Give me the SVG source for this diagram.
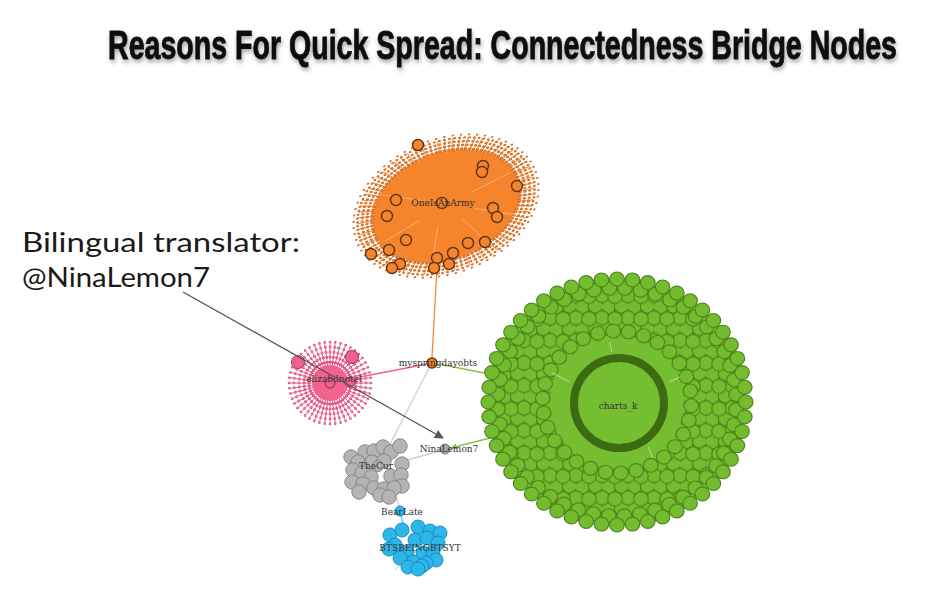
<svg xmlns="http://www.w3.org/2000/svg" width="928" height="614" viewBox="0 0 928 614">
  <defs>
    <style>
      .title { font-family: "Liberation Sans", Arial, sans-serif; font-weight: bold; font-size: 40px; fill: #111; stroke: #111; stroke-width: 0.9; }
      .note { font-family: Lato, "Open Sans", sans-serif; font-size: 26px; fill: #1a1a1a; }
      .lbl { font-family: "DejaVu Serif", "Liberation Serif", serif; font-size: 9px; fill: #333; text-anchor: middle; dominant-baseline: central; }
      .edge { fill: none; stroke-width: 1.3; }
      .dot { fill: none; stroke-linecap: round; stroke-dasharray: 0 1; }
      .og { fill: #f5842c; stroke: #5b3415; stroke-width: 1.4; }
      .gr { fill: #b4b4b4; stroke: #878787; stroke-width: 1; }
      .cy { fill: #2db6ea; stroke: #1b8dbf; stroke-width: 1; }
    </style>
    <filter id="shadow" filterUnits="userSpaceOnUse" x="0" y="0" width="928" height="100">
      <feDropShadow dx="1" dy="3" stdDeviation="2" flood-color="#000" flood-opacity="0.35"/>
    </filter>
    <marker id="arrowDark" viewBox="0 0 10 10" refX="9" refY="5" markerWidth="7" markerHeight="7" orient="auto">
      <path d="M0,0 L10,5 L0,10 z" fill="#555"/>
    </marker>
    <marker id="arrowGreen" viewBox="0 0 10 10" refX="9" refY="5" markerWidth="5" markerHeight="5" orient="auto">
      <path d="M0,0 L10,5 L0,10 z" fill="#8cc04a"/>
    </marker>
    <!-- unit starburst: 24 spokes every 15 degrees -->
    <path id="spokes" vector-effect="non-scaling-stroke" d="M0,0L1,0M0,0L.966,.259M0,0L.866,.5M0,0L.707,.707M0,0L.5,.866M0,0L.259,.966M0,0L0,1M0,0L-.259,.966M0,0L-.5,.866M0,0L-.707,.707M0,0L-.866,.5M0,0L-.966,.259M0,0L-1,0M0,0L-.966,-.259M0,0L-.866,-.5M0,0L-.707,-.707M0,0L-.5,-.866M0,0L-.259,-.966M0,0L0,-1M0,0L.259,-.966M0,0L.5,-.866M0,0L.707,-.707M0,0L.866,-.5M0,0L.966,-.259"/>
    <!-- packed green follower nodes -->
    <pattern id="greenDots" patternUnits="userSpaceOnUse" x="4" y="3" width="26" height="22.5">
      <rect width="26" height="22.5" fill="#5e9c24"/>
      <g fill="#74bb2f" stroke="#4b861c" stroke-width="1.1">
        <circle cx="6.5" cy="11.25" r="7.2"/>
        <circle cx="19.5" cy="10.5" r="7.2"/>
        <circle cx="0" cy="0" r="7.2"/>
        <circle cx="26" cy="0" r="7.2"/>
        <circle cx="13" cy="1" r="7.2"/>
        <circle cx="0" cy="22.5" r="7.2"/>
        <circle cx="26" cy="22.5" r="7.2"/>
        <circle cx="13" cy="23.5" r="7.2"/>
      </g>
    </pattern>
  </defs>

  <rect width="928" height="614" fill="#ffffff"/>

  <g filter="url(#shadow)">
    <text class="title" transform="translate(108,59) scale(0.714,1)" x="0" y="0" textLength="1105" lengthAdjust="spacingAndGlyphs">Reasons For Quick Spread: Connectedness Bridge Nodes</text>
  </g>

  <!-- connectors -->
  <g id="connectors">
    <line class="edge" x1="437" y1="268" x2="432" y2="357" stroke="#f08a3a" stroke-width="1.6"/>
    <line class="edge" x1="355" y1="378" x2="427" y2="364" stroke="#f06090"/>
    <line class="edge" x1="438" y1="364" x2="495" y2="375" stroke="#8cc04a"/>
    <line class="edge" x1="429" y1="368" x2="383" y2="458" stroke="#cfcfcf"/>
    <line class="edge" x1="440" y1="451" x2="396" y2="463" stroke="#cfcfcf"/>
    <line class="edge" x1="490" y1="438" x2="451" y2="448" stroke="#8cc04a" marker-end="url(#arrowGreen)"/>
    <line class="edge" x1="395" y1="494" x2="399" y2="506" stroke="#cfcfcf"/>
    <line class="edge" x1="401" y1="516" x2="405" y2="530" stroke="#5cc8ef"/>
  </g>

  <!-- OneIsAnArmy cluster -->
  <g id="OneIsAnArmy">
    <g transform="translate(446,206) rotate(-22) scale(1,0.696)">
      <use href="#spokes" transform="scale(92)" stroke="#f3913f" stroke-width="1.1"/>
      <use href="#spokes" transform="rotate(5) scale(92)" stroke="#f3913f" stroke-width="1.1"/>
      <use href="#spokes" transform="rotate(10) scale(92)" stroke="#f3913f" stroke-width="1.1"/>
      <circle r="76" fill="#f5842c"/>
      <circle class="dot" r="77" stroke="#c2611e" stroke-width="3.6" pathLength="110"/>
      <circle class="dot" r="77" stroke="#f27f2a" stroke-width="2.4" pathLength="110"/>
      <circle class="dot" r="82" stroke="#c2611e" stroke-width="3.4" pathLength="110"/>
      <circle class="dot" r="82" stroke="#f27f2a" stroke-width="2.2" pathLength="110"/>
      <circle class="dot" r="87" stroke="#c2611e" stroke-width="3.2" pathLength="110"/>
      <circle class="dot" r="87" stroke="#f27f2a" stroke-width="2.1" pathLength="110"/>
      <circle class="dot" r="92" stroke="#c2611e" stroke-width="3" pathLength="110"/>
      <circle class="dot" r="92" stroke="#f27f2a" stroke-width="1.9" pathLength="110"/>
      <circle class="dot" r="96" stroke="#c2611e" stroke-width="2.6" pathLength="70" transform="rotate(2)"/>
      <circle class="dot" r="96" stroke="#f27f2a" stroke-width="1.6" pathLength="70" transform="rotate(2)"/>
      <g stroke="#fbc9a0" stroke-width="0.8" opacity="0.8">
        <line x1="-20" y1="-20" x2="-58" y2="-52"/>
        <line x1="25" y1="18" x2="62" y2="50"/>
        <line x1="10" y1="25" x2="24" y2="68"/>
        <line x1="-15" y1="22" x2="-32" y2="64"/>
        <line x1="30" y1="-5" x2="72" y2="-10"/>
        <line x1="-30" y1="5" x2="-70" y2="14"/>
      </g>
    </g>
    <circle class="og" cx="418" cy="145" r="5.5"/>
    <circle class="og" cx="483" cy="166" r="5.5"/>
    <circle class="og" cx="482" cy="172" r="5.5"/>
    <circle class="og" cx="517" cy="186" r="5.5"/>
    <circle class="og" cx="396" cy="200" r="5.5"/>
    <circle class="og" cx="493" cy="208" r="5.5"/>
    <circle class="og" cx="497" cy="217" r="5.5"/>
    <circle class="og" cx="387" cy="216" r="5.5"/>
    <circle class="og" cx="406" cy="240" r="5.5"/>
    <circle class="og" cx="468" cy="243" r="5.5"/>
    <circle class="og" cx="485" cy="242" r="5.5"/>
    <circle class="og" cx="371" cy="254" r="5.5"/>
    <circle class="og" cx="389" cy="250" r="5.5"/>
    <circle class="og" cx="437" cy="258" r="5.5"/>
    <circle class="og" cx="453" cy="253" r="5.5"/>
    <circle class="og" cx="400" cy="264" r="5.5"/>
    <circle class="og" cx="392" cy="268" r="5.5"/>
    <circle class="og" cx="434" cy="268" r="5.5"/>
    <circle class="og" cx="449" cy="264" r="5.5"/>
    <circle class="og" cx="442" cy="203" r="5.5"/>
    <text class="lbl" x="443" y="203" font-size="9.5">OneIsAnArmy</text>
  </g>

  <!-- elizabdnotel cluster -->
  <g id="elizabdnotel">
    <g transform="translate(330,383)">
      <use href="#spokes" transform="scale(42)" stroke="#f2628f" stroke-width="1"/>
      <use href="#spokes" transform="rotate(7.5) scale(42)" stroke="#f2628f" stroke-width="1"/>
      <circle r="18" fill="#f2628f"/>
      <circle class="dot" r="21" stroke="#d9467a" stroke-width="3" pathLength="48"/>
      <circle class="dot" r="21" stroke="#f2628f" stroke-width="2" pathLength="48"/>
      <circle class="dot" r="26" stroke="#d9467a" stroke-width="3" pathLength="48"/>
      <circle class="dot" r="26" stroke="#f2628f" stroke-width="2" pathLength="48"/>
      <circle class="dot" r="31" stroke="#d9467a" stroke-width="3" pathLength="48"/>
      <circle class="dot" r="31" stroke="#f47aa2" stroke-width="1.9" pathLength="48"/>
      <circle class="dot" r="36" stroke="#d9467a" stroke-width="2.8" pathLength="48"/>
      <circle class="dot" r="36" stroke="#f47aa2" stroke-width="1.8" pathLength="48"/>
      <circle class="dot" r="41" stroke="#d9467a" stroke-width="2.6" pathLength="48"/>
      <circle class="dot" r="41" stroke="#f47aa2" stroke-width="1.6" pathLength="48"/>
    </g>
    <circle cx="298" cy="362" r="6.5" fill="#f0628e" stroke="#9a3a5a" stroke-width="1"/>
    <circle cx="352" cy="357" r="6.5" fill="#f0628e" stroke="#9a3a5a" stroke-width="1"/>
    <circle cx="330" cy="383" r="5" fill="#f0628e" stroke="#7a3048" stroke-width="1"/>
    <circle cx="350" cy="382" r="5" fill="#f0628e" stroke="#7a3048" stroke-width="1"/>
    <circle cx="338" cy="348" r="1.5" fill="#3cc9a0"/>
    <text class="lbl" x="334" y="379" fill="#2a2a2a">elizabdnotel</text>
  </g>

  <!-- charts_k cluster -->
  <g id="charts_k">
    <path fill="url(#greenDots)" fill-rule="evenodd" d="M489,402 a128,122 0 1,0 256,0 a128,122 0 1,0 -256,0 Z M551,402 a66,66 0 1,0 132,0 a66,66 0 1,0 -132,0 Z"/>
    <circle cx="617" cy="402" r="67" fill="#76be31"/>
    <g transform="translate(617,402) scale(1.047,1)">
      <circle class="dot" r="114" stroke="#4b861c" stroke-width="15" pathLength="48" transform="rotate(4)"/>
      <circle class="dot" r="114" stroke="#74bb2f" stroke-width="12.8" pathLength="48" transform="rotate(4)"/>
      <circle class="dot" r="123" stroke="#4b861c" stroke-width="15" pathLength="52"/>
      <circle class="dot" r="123" stroke="#74bb2f" stroke-width="12.8" pathLength="52"/>
      <circle class="dot" r="71" stroke="#4b861c" stroke-width="15" pathLength="30" transform="rotate(3)"/>
      <circle class="dot" r="71" stroke="#74bb2f" stroke-width="12.8" pathLength="30" transform="rotate(3)"/>
      <g stroke="#c9e8a6" stroke-width="1" opacity="0.7">
        <line x1="-45" y1="-20" x2="-62" y2="-29"/>
        <line x1="50" y1="-20" x2="60" y2="-25"/>
        <line x1="30" y1="45" x2="34" y2="56"/>
        <line x1="-5" y1="-50" x2="-7" y2="-60"/>
      </g>
    </g>
    <circle cx="619" cy="403" r="45" fill="none" stroke="#3c6b14" stroke-width="8"/>
    <text class="lbl" x="618" y="406" font-size="8.5">charts_k</text>
  </g>

  <!-- TheCur cluster -->
  <g id="TheCur">
    <g stroke="#e6e6e6" stroke-width="0.8">
      <line x1="378" y1="466" x2="392" y2="498"/>
      <line x1="378" y1="466" x2="360" y2="495"/>
      <line x1="378" y1="466" x2="405" y2="478"/>
    </g>
    <circle class="gr" cx="365" cy="452" r="7.2"/>
    <circle class="gr" cx="374" cy="451" r="7.2"/>
    <circle class="gr" cx="383" cy="447" r="7.2"/>
    <circle class="gr" cx="391" cy="452" r="7.2"/>
    <circle class="gr" cx="400" cy="446" r="7.2"/>
    <circle class="gr" cx="351" cy="457" r="7.2"/>
    <circle class="gr" cx="358" cy="462" r="7.2"/>
    <circle class="gr" cx="372" cy="462" r="7.2"/>
    <circle class="gr" cx="384" cy="461" r="7.2"/>
    <circle class="gr" cx="402" cy="464" r="7.2"/>
    <circle class="gr" cx="353" cy="470" r="7.2"/>
    <circle class="gr" cx="362" cy="473" r="7.2"/>
    <circle class="gr" cx="371" cy="477" r="7.2"/>
    <circle class="gr" cx="391" cy="476" r="7.2"/>
    <circle class="gr" cx="401" cy="475" r="7.2"/>
    <circle class="gr" cx="352" cy="482" r="7.2"/>
    <circle class="gr" cx="363" cy="484" r="7.2"/>
    <circle class="gr" cx="374" cy="488" r="7.2"/>
    <circle class="gr" cx="402" cy="486" r="7.2"/>
    <circle class="gr" cx="359" cy="492" r="7.2"/>
    <circle class="gr" cx="384" cy="489" r="7.2"/>
    <circle class="gr" cx="394" cy="488" r="7.2"/>
    <circle class="gr" cx="380" cy="495" r="7.2"/>
    <circle class="gr" cx="389" cy="497" r="7.2"/>
    <circle class="gr" cx="378" cy="466" r="5.5"/>
    <text class="lbl" x="376" y="466">TheCur</text>
  </g>

  <!-- BTSBEINGBTSYT cluster -->
  <g id="BTSBEINGBTSYT">
    <g stroke="#7dd6f5" stroke-width="0.9">
      <line x1="413" y1="550" x2="395" y2="570"/>
      <line x1="413" y1="550" x2="440" y2="562"/>
      <line x1="413" y1="550" x2="386" y2="540"/>
    </g>
    <circle class="cy" cx="390" cy="535" r="7"/>
    <circle class="cy" cx="402" cy="530" r="7"/>
    <circle class="cy" cx="418" cy="527" r="7"/>
    <circle class="cy" cx="430" cy="531" r="7"/>
    <circle class="cy" cx="440" cy="533" r="7"/>
    <circle class="cy" cx="415" cy="540" r="7"/>
    <circle class="cy" cx="427" cy="538" r="7"/>
    <circle class="cy" cx="395" cy="545" r="7"/>
    <circle class="cy" cx="438" cy="543" r="7"/>
    <circle class="cy" cx="389" cy="549" r="7"/>
    <circle class="cy" cx="407" cy="552" r="7"/>
    <circle class="cy" cx="423" cy="553" r="7"/>
    <circle class="cy" cx="433" cy="552" r="7"/>
    <circle class="cy" cx="400" cy="558" r="7"/>
    <circle class="cy" cx="436" cy="560" r="7"/>
    <circle class="cy" cx="413" cy="562" r="7"/>
    <circle class="cy" cx="426" cy="563" r="7"/>
    <circle class="cy" cx="422" cy="566" r="7"/>
    <circle class="cy" cx="408" cy="567" r="7"/>
    <circle class="cy" cx="418" cy="569" r="7"/>
    <text class="lbl" x="420" y="548" font-size="9.5">BTSBEINGBTSYT</text>
  </g>

  <!-- bridge nodes -->
  <g id="myspringdayobts">
    <circle class="og" cx="432" cy="363" r="5"/>
    <text class="lbl" x="438" y="363">myspringdayobts</text>
  </g>
  <g id="NinaLemon7">
    <circle cx="445" cy="449" r="5" fill="#a8a8a8" stroke="#7a7a7a" stroke-width="1"/>
    <text class="lbl" x="449" y="449">NinaLemon7</text>
  </g>
  <g id="BearLate">
    <circle class="cy" cx="400" cy="511" r="5"/>
    <text class="lbl" x="402" y="512" font-size="8.5">BearLate</text>
  </g>

  <!-- annotation -->
  <g id="annotation">
    <text class="note" x="22" y="252" textLength="278" lengthAdjust="spacingAndGlyphs">Bilingual translator:</text>
    <text class="note" x="22" y="287" textLength="188" lengthAdjust="spacingAndGlyphs">@NinaLemon7</text>
    <line x1="183" y1="292" x2="443" y2="438" stroke="#555" stroke-width="1.3" marker-end="url(#arrowDark)"/>
  </g>
</svg>
